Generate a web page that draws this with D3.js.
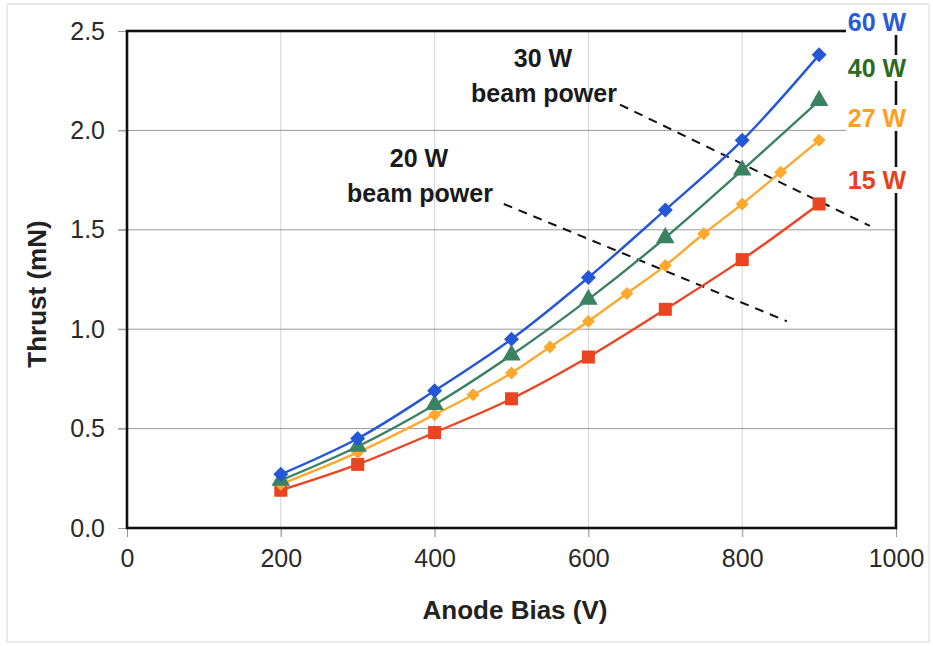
<!DOCTYPE html>
<html>
<head>
<meta charset="utf-8">
<script src="https://cdn.jsdelivr.net/npm/d3@7/dist/d3.min.js"></script>
<style>
  html,body{margin:0;padding:0;background:#fff;}
  svg{display:block;font-family:"Liberation Sans",Arial,sans-serif;}
</style>
</head>
<body>
<svg id="chart" width="933" height="646"></svg>
<script>
// values
const voltages   = [200,300,400,500,600,700,800,900];
const thrust60   = [0.27,0.45,0.69,0.95,1.26,1.60,1.95,2.38];
const thrust40   = [0.24,0.41,0.62,0.87,1.15,1.46,1.80,2.15];
const voltages27 = [200,300,400,450,500,550,600,650,700,750,800,850,900];
const thrust27   = [0.22,0.38,0.57,0.67,0.78,0.91,1.04,1.18,1.32,1.48,1.63,1.79,1.95];
const thrust15   = [0.19,0.32,0.48,0.65,0.86,1.10,1.35,1.63];
const xTicks = [0,200,400,600,800,1000];
const yTicks = [0,0.5,1.0,1.5,2.0,2.5];
const seriesLabels = ['60 W','40 W','27 W','15 W'];
// dashed constant-beam-power guides, in data units
const beam20 = [[490,1.63],[858,1.04]];
const beam30 = [[641,2.13],[966,1.52]];

const SERIES = [
  {name:'60 W', xs:voltages,   ys:thrust60, line:'#2456d8', label:'#2a5bd7', shape:'diamond',  size:160},
  {name:'40 W', xs:voltages,   ys:thrust40, line:'#3a8262', label:'#2f6b1f', shape:'triangle', size:150},
  {name:'27 W', xs:voltages27, ys:thrust27, line:'#ffa82e', label:'#ffa020', shape:'diamond',  size:120},
  {name:'15 W', xs:voltages,   ys:thrust15, line:'#ea4420', label:'#e8401c', shape:'square',   size:170},
];

const svg=d3.select('#chart');
const x=d3.scaleLinear([0,1000],[127,896]);
const y=d3.scaleLinear([0,2.5],[528,31]);

// faint outer border of the scanned figure
svg.append('rect').attr('x',7).attr('y',4).attr('width',922).attr('height',638)
  .attr('fill','none').attr('stroke','#d8d8d8').attr('stroke-width',1);

// grid
const g=svg.append('g');
g.append('g').selectAll('line').data(xTicks.filter(d=>d>0&&d<1000)).join('line')
  .attr('x1',d=>x(d)).attr('x2',d=>x(d)).attr('y1',y(2.5)).attr('y2',y(0)+9)
  .attr('stroke','#d4d4d4').attr('stroke-width',1);
g.append('g').selectAll('line').data(yTicks.filter(d=>d>0&&d<2.5)).join('line')
  .attr('x1',x(0)-9).attr('x2',x(1000)).attr('y1',d=>y(d)).attr('y2',d=>y(d))
  .attr('stroke','#9a9a9a').attr('stroke-width',1);

// axes via d3 axis generators, then restyled
const xAxis=svg.append('g').attr('transform',`translate(0,${y(0)})`)
  .call(d3.axisBottom(x).tickValues(xTicks).tickSize(9).tickPadding(12).tickFormat(d3.format('d')));
const yAxis=svg.append('g').attr('transform',`translate(${x(0)},0)`)
  .call(d3.axisLeft(y).tickValues(yTicks).tickSize(9).tickPadding(13).tickFormat(d3.format('.1f')));
[xAxis,yAxis].forEach(a=>{
  a.select('.domain').remove();
  a.selectAll('.tick line').attr('stroke','#9a9a9a');
  a.selectAll('.tick text').attr('fill','#2a2a2a').style('font-size','25px')
    .style('font-family','"Liberation Sans",Arial,sans-serif');
});
xAxis.selectAll('.tick text').attr('dy','0.71em');

// plot frame
svg.append('rect').attr('x',x(0)).attr('y',y(2.5))
  .attr('width',x(1000)-x(0)).attr('height',y(0)-y(2.5))
  .attr('fill','none').attr('stroke','#111').attr('stroke-width',2.6);

// axis titles
svg.append('text').attr('x',515).attr('y',619).attr('text-anchor','middle')
  .attr('font-size',26).attr('font-weight','bold').attr('fill','#222').text('Anode Bias (V)');
svg.append('text').attr('transform','translate(46,294) rotate(-90)').attr('text-anchor','middle')
  .attr('font-size',26).attr('font-weight','bold').attr('fill','#222').text('Thrust (mN)');

// beam power guides
const guide=d3.line().x(d=>x(d[0])).y(d=>y(d[1]));
[beam20,beam30].forEach(b=>{
  svg.append('path').attr('d',guide(b)).attr('fill','none')
    .attr('stroke','#111').attr('stroke-width',2).attr('stroke-dasharray','9,7');
});

// series
const line=d3.line().x(d=>x(d[0])).y(d=>y(d[1])).curve(d3.curveCatmullRom.alpha(0.5));
const symType={diamond:d3.symbolSquare,triangle:d3.symbolTriangle,square:d3.symbolSquare};
SERIES.slice().reverse().forEach(s=>{
  const pts=s.xs.map((v,i)=>[v,s.ys[i]]);
  const sg=svg.append('g');
  sg.append('path').attr('d',line(pts)).attr('fill','none')
    .attr('stroke',s.line).attr('stroke-width',2.4);
  sg.selectAll('path.m').data(pts).join('path').attr('class','m')
    .attr('transform',d=>`translate(${x(d[0])},${y(d[1])})${s.shape==='diamond'?' rotate(45)':''}`)
    .attr('d',d3.symbol().type(symType[s.shape]).size(s.shape==='diamond'?s.size*0.7:s.size))
    .attr('fill',s.line);
});

// annotations
const ann=[
  {t:['30 W','beam power'],cx:543,y0:67},
  {t:['20 W','beam power'],cx:419,y0:167},
];
ann.forEach(a=>{
  a.t.forEach((t,i)=>{
    svg.append('text').attr('x',a.cx+(i?1:0)).attr('y',a.y0+i*35).attr('text-anchor','middle')
      .attr('font-size',25).attr('font-weight','bold').attr('fill','#1a1a1a').text(t);
  });
});

// series labels on the right edge, white backgrounds break the frame
const labelY=[22,68,118,180];
seriesLabels.forEach((lab,i)=>{
  const s=SERIES[i];
  svg.append('rect').attr('x',846).attr('y',labelY[i]-13).attr('width',64).attr('height',26).attr('fill','#fff');
  svg.append('text').attr('x',877).attr('y',labelY[i]).attr('dy','0.36em').attr('text-anchor','middle')
    .attr('font-size',25).attr('font-weight','bold').attr('fill',s.label).text(lab);
});
</script>
</body>
</html>
